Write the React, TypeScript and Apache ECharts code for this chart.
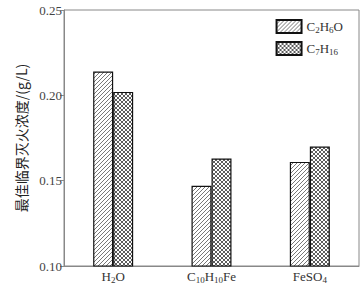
import React, { useEffect, useRef } from "react";
import * as echarts from "echarts";

const categories = ["H2O", "C10H10Fe", "FeSO4"];
const seriesNames = ["C2H6O", "C7H16"];
const ethanolValues = [0.214, 0.147, 0.161];
const heptaneValues = [0.202, 0.163, 0.170];
const yTicks = [0.1, 0.15, 0.2, 0.25];
const yAxisName = "最佳临界灭火浓度/(g/L)";

function chem(s: string, n: string, sub: string) {
  return s.replace(/(\d+)|([^\d]+)/g, (m, d) => (d ? `{${sub}|${m}}` : `{${n}|${m}}`));
}

function makeHatch(cross: boolean) {
  const size = 4;
  const c = document.createElement("canvas");
  c.width = size;
  c.height = size;
  const ctx = c.getContext("2d")!;
  ctx.fillStyle = "#ffffff";
  ctx.fillRect(0, 0, size, size);
  ctx.strokeStyle = cross ? "#333" : "#555";
  ctx.lineWidth = 0.8;
  const diag = (flip: boolean) => {
    for (let k = -1; k <= 1; k++) {
      ctx.beginPath();
      if (!flip) {
        ctx.moveTo(k * size, size);
        ctx.lineTo(k * size + size, 0);
      } else {
        ctx.moveTo(k * size, 0);
        ctx.lineTo(k * size + size, size);
      }
      ctx.stroke();
    }
  };
  diag(false);
  if (cross) diag(true);
  return c;
}

export default function App() {
  const ref = useRef<HTMLDivElement>(null);
  useEffect(() => {
    const chart = echarts.init(ref.current!, null, { renderer: "svg" });
    const serif = "'Liberation Serif', 'Times New Roman', serif";
    const rich = {
      n: { fontSize: 13, fontFamily: serif, color: "#333" },
      s: { fontSize: 9, fontFamily: serif, color: "#333", padding: [6, 0, 0, 0] },
    };
    const hatch = { image: makeHatch(false), repeat: "repeat" } as any;
    const crossHatch = { image: makeHatch(true), repeat: "repeat" } as any;
    chart.setOption({
      animation: false,
      grid: {
        left: 64,
        right: 5,
        top: 10,
        bottom: 16,
        show: true,
        borderColor: "#888",
        borderWidth: 1,
      },
      legend: {
        right: 16,
        top: 14,
        orient: "vertical",
        itemWidth: 25,
        itemHeight: 13,
        itemGap: 7,
        icon: "rect",
        formatter: (name: string) => chem(name, "n", "s"),
        textStyle: { rich, color: "#333" },
        data: seriesNames,
      },
      xAxis: {
        type: "category",
        data: categories,
        axisLine: { lineStyle: { color: "#888" } },
        axisTick: { show: false },
        axisLabel: {
          margin: 3,
          interval: 0,
          formatter: (v: string) => chem(v, "n", "s"),
          rich,
        },
      },
      yAxis: {
        type: "value",
        min: yTicks[0],
        max: yTicks[yTicks.length - 1],
        interval: 0.05,
        name: yAxisName,
        nameLocation: "middle",
        nameGap: 28,
        nameTextStyle: {
          fontFamily: "'Noto Sans CJK SC', serif",
          fontSize: 14,
          color: "#222222",
        },
        splitLine: { show: false },
        axisLine: { show: true, lineStyle: { color: "#888" } },
        axisTick: { show: true, length: 4, lineStyle: { color: "#888" } },
        axisLabel: {
          margin: 2,
          fontFamily: serif,
          fontSize: 13,
          color: "#444",
          formatter: (v: number) => v.toFixed(2),
        },
      },
      series: [
        {
          name: seriesNames[0],
          type: "bar",
          data: ethanolValues,
          barWidth: 20,
          barGap: "0%",
          itemStyle: { color: hatch, borderColor: "#111", borderWidth: 1.2 },
        },
        {
          name: seriesNames[1],
          type: "bar",
          data: heptaneValues,
          barWidth: 20,
          barGap: "0%",
          itemStyle: { color: crossHatch, borderColor: "#111", borderWidth: 1.2 },
        },
      ],
    });
    return () => chart.dispose();
  }, []);
  return <div ref={ref} style={{ width: 364, height: 284, position: "absolute", left: 0, top: 0 }} />;
}
